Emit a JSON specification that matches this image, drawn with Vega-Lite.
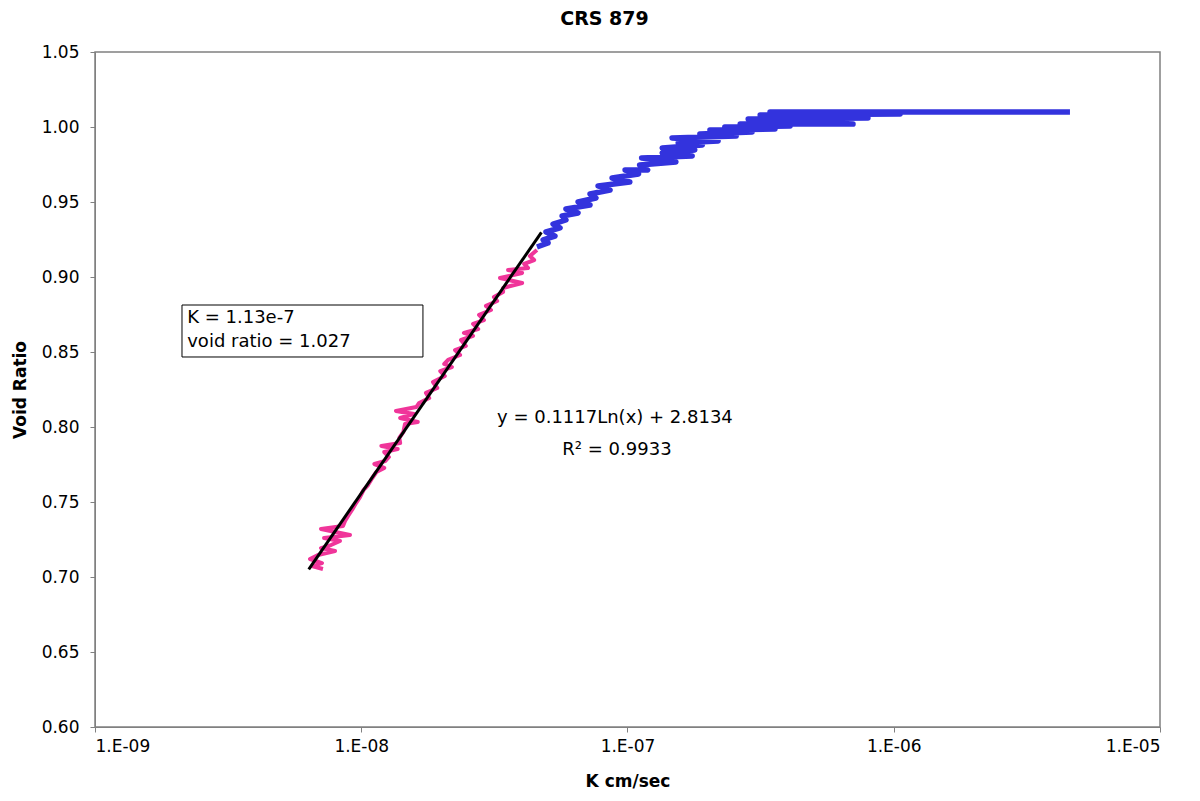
{
  "$schema": "https://vega.github.io/schema/vega-lite/v6.json",
  "width": 1065,
  "height": 675,
  "autosize": "none",
  "padding": {"left": 95, "top": 52, "right": 40, "bottom": 74},
  "background": "white",
  "config": {
    "font": "DejaVu Sans",
    "view": {"stroke": "#808080", "strokeWidth": 1.5},
    "axis": {"grid": false, "domainColor": "#808080", "tickColor": "#808080", "tickSize": 5, "labelColor": "#000000", "titleColor": "#000000", "labelFont": "DejaVu Sans", "titleFont": "DejaVu Sans", "labelFontSize": 17, "titleFontSize": 17, "titleFontWeight": "bold"}
  },
  "title": {"text": "CRS 879", "fontSize": 19, "fontWeight": "bold", "font": "DejaVu Sans", "color": "#000000", "dx": -23, "offset": 14},
  "datasets": {
    "series": [
      {"s": "blue", "i": 1, "K": 4.59e-6, "e": 1.0100},
      {"s": "blue", "i": 2, "K": 3.43e-7, "e": 1.0100},
      {"s": "blue", "i": 3, "K": 1.056e-6, "e": 1.0087},
      {"s": "blue", "i": 4, "K": 3.15e-7, "e": 1.0080},
      {"s": "blue", "i": 5, "K": 8.00e-7, "e": 1.0060},
      {"s": "blue", "i": 6, "K": 2.84e-7, "e": 1.0053},
      {"s": "blue", "i": 7, "K": 7.03e-7, "e": 1.0020},
      {"s": "blue", "i": 8, "K": 2.65e-7, "e": 1.0020},
      {"s": "blue", "i": 9, "K": 4.08e-7, "e": 1.0007},
      {"s": "blue", "i": 10, "K": 2.32e-7, "e": 1.0000},
      {"s": "blue", "i": 11, "K": 3.58e-7, "e": 0.9987},
      {"s": "blue", "i": 12, "K": 2.04e-7, "e": 0.9980},
      {"s": "blue", "i": 13, "K": 2.94e-7, "e": 0.9967},
      {"s": "blue", "i": 14, "K": 1.87e-7, "e": 0.9953},
      {"s": "blue", "i": 15, "K": 2.56e-7, "e": 0.9940},
      {"s": "blue", "i": 16, "K": 1.47e-7, "e": 0.9927},
      {"s": "blue", "i": 17, "K": 2.19e-7, "e": 0.9907},
      {"s": "blue", "i": 18, "K": 1.55e-7, "e": 0.9893},
      {"s": "blue", "i": 19, "K": 1.91e-7, "e": 0.9880},
      {"s": "blue", "i": 20, "K": 1.35e-7, "e": 0.9860},
      {"s": "blue", "i": 21, "K": 1.79e-7, "e": 0.9847},
      {"s": "blue", "i": 22, "K": 1.35e-7, "e": 0.9827},
      {"s": "blue", "i": 23, "K": 1.75e-7, "e": 0.9807},
      {"s": "blue", "i": 24, "K": 1.13e-7, "e": 0.9793},
      {"s": "blue", "i": 25, "K": 1.52e-7, "e": 0.9767},
      {"s": "blue", "i": 26, "K": 1.11e-7, "e": 0.9747},
      {"s": "blue", "i": 27, "K": 1.19e-7, "e": 0.9713},
      {"s": "blue", "i": 28, "K": 9.79e-8, "e": 0.9713},
      {"s": "blue", "i": 29, "K": 1.10e-7, "e": 0.9687},
      {"s": "blue", "i": 30, "K": 8.75e-8, "e": 0.9660},
      {"s": "blue", "i": 31, "K": 1.02e-7, "e": 0.9633},
      {"s": "blue", "i": 32, "K": 7.75e-8, "e": 0.9607},
      {"s": "blue", "i": 33, "K": 8.60e-8, "e": 0.9580},
      {"s": "blue", "i": 34, "K": 7.23e-8, "e": 0.9553},
      {"s": "blue", "i": 35, "K": 7.61e-8, "e": 0.9527},
      {"s": "blue", "i": 36, "K": 6.52e-8, "e": 0.9500},
      {"s": "blue", "i": 37, "K": 7.23e-8, "e": 0.9480},
      {"s": "blue", "i": 38, "K": 5.87e-8, "e": 0.9453},
      {"s": "blue", "i": 39, "K": 6.52e-8, "e": 0.9427},
      {"s": "blue", "i": 40, "K": 5.68e-8, "e": 0.9407},
      {"s": "blue", "i": 41, "K": 5.87e-8, "e": 0.9380},
      {"s": "blue", "i": 42, "K": 5.25e-8, "e": 0.9353},
      {"s": "blue", "i": 43, "K": 5.58e-8, "e": 0.9327},
      {"s": "blue", "i": 44, "K": 4.94e-8, "e": 0.9300},
      {"s": "blue", "i": 45, "K": 5.34e-8, "e": 0.9273},
      {"s": "blue", "i": 46, "K": 4.82e-8, "e": 0.9247},
      {"s": "blue", "i": 47, "K": 5.03e-8, "e": 0.9227},
      {"s": "blue", "i": 48, "K": 4.57e-8, "e": 0.9200},
      {"s": "pink", "i": 1, "K": 4.57e-8, "e": 0.9180},
      {"s": "pink", "i": 2, "K": 4.30e-8, "e": 0.9140},
      {"s": "pink", "i": 3, "K": 4.46e-8, "e": 0.9113},
      {"s": "pink", "i": 4, "K": 4.09e-8, "e": 0.9087},
      {"s": "pink", "i": 5, "K": 4.23e-8, "e": 0.9060},
      {"s": "pink", "i": 6, "K": 3.56e-8, "e": 0.9047},
      {"s": "pink", "i": 7, "K": 4.02e-8, "e": 0.9027},
      {"s": "pink", "i": 8, "K": 3.32e-8, "e": 0.8993},
      {"s": "pink", "i": 9, "K": 4.02e-8, "e": 0.8960},
      {"s": "pink", "i": 10, "K": 3.41e-8, "e": 0.8927},
      {"s": "pink", "i": 11, "K": 3.41e-8, "e": 0.8900},
      {"s": "pink", "i": 12, "K": 3.15e-8, "e": 0.8867},
      {"s": "pink", "i": 13, "K": 3.24e-8, "e": 0.8840},
      {"s": "pink", "i": 14, "K": 2.94e-8, "e": 0.8807},
      {"s": "pink", "i": 15, "K": 3.07e-8, "e": 0.8780},
      {"s": "pink", "i": 16, "K": 2.77e-8, "e": 0.8747},
      {"s": "pink", "i": 17, "K": 2.89e-8, "e": 0.8713},
      {"s": "pink", "i": 18, "K": 2.63e-8, "e": 0.8687},
      {"s": "pink", "i": 19, "K": 2.75e-8, "e": 0.8653},
      {"s": "pink", "i": 20, "K": 2.43e-8, "e": 0.8627},
      {"s": "pink", "i": 21, "K": 2.63e-8, "e": 0.8607},
      {"s": "pink", "i": 22, "K": 2.37e-8, "e": 0.8580},
      {"s": "pink", "i": 23, "K": 2.47e-8, "e": 0.8540},
      {"s": "pink", "i": 24, "K": 2.25e-8, "e": 0.8513},
      {"s": "pink", "i": 25, "K": 2.35e-8, "e": 0.8480},
      {"s": "pink", "i": 26, "K": 2.12e-8, "e": 0.8447},
      {"s": "pink", "i": 27, "K": 2.05e-8, "e": 0.8420},
      {"s": "pink", "i": 28, "K": 2.19e-8, "e": 0.8400},
      {"s": "pink", "i": 29, "K": 1.98e-8, "e": 0.8373},
      {"s": "pink", "i": 30, "K": 2.06e-8, "e": 0.8340},
      {"s": "pink", "i": 31, "K": 1.86e-8, "e": 0.8300},
      {"s": "pink", "i": 32, "K": 1.93e-8, "e": 0.8260},
      {"s": "pink", "i": 33, "K": 1.75e-8, "e": 0.8227},
      {"s": "pink", "i": 34, "K": 1.80e-8, "e": 0.8193},
      {"s": "pink", "i": 35, "K": 1.65e-8, "e": 0.8160},
      {"s": "pink", "i": 36, "K": 1.61e-8, "e": 0.8133},
      {"s": "pink", "i": 37, "K": 1.35e-8, "e": 0.8107},
      {"s": "pink", "i": 38, "K": 1.58e-8, "e": 0.8087},
      {"s": "pink", "i": 39, "K": 1.40e-8, "e": 0.8060},
      {"s": "pink", "i": 40, "K": 1.63e-8, "e": 0.8033},
      {"s": "pink", "i": 41, "K": 1.46e-8, "e": 0.8020},
      {"s": "pink", "i": 42, "K": 1.44e-8, "e": 0.7967},
      {"s": "pink", "i": 43, "K": 1.39e-8, "e": 0.7927},
      {"s": "pink", "i": 44, "K": 1.40e-8, "e": 0.7893},
      {"s": "pink", "i": 45, "K": 1.19e-8, "e": 0.7873},
      {"s": "pink", "i": 46, "K": 1.37e-8, "e": 0.7853},
      {"s": "pink", "i": 47, "K": 1.22e-8, "e": 0.7833},
      {"s": "pink", "i": 48, "K": 1.27e-8, "e": 0.7800},
      {"s": "pink", "i": 49, "K": 1.23e-8, "e": 0.7773},
      {"s": "pink", "i": 50, "K": 1.12e-8, "e": 0.7753},
      {"s": "pink", "i": 51, "K": 1.22e-8, "e": 0.7727},
      {"s": "pink", "i": 52, "K": 1.14e-8, "e": 0.7700},
      {"s": "pink", "i": 53, "K": 1.10e-8, "e": 0.7660},
      {"s": "pink", "i": 54, "K": 1.06e-8, "e": 0.7613},
      {"s": "pink", "i": 55, "K": 1.02e-8, "e": 0.7580},
      {"s": "pink", "i": 56, "K": 9.89e-9, "e": 0.7533},
      {"s": "pink", "i": 57, "K": 9.56e-9, "e": 0.7493},
      {"s": "pink", "i": 58, "K": 9.23e-9, "e": 0.7447},
      {"s": "pink", "i": 59, "K": 8.92e-9, "e": 0.7407},
      {"s": "pink", "i": 60, "K": 8.69e-9, "e": 0.7373},
      {"s": "pink", "i": 61, "K": 8.54e-9, "e": 0.7340},
      {"s": "pink", "i": 62, "K": 7.06e-9, "e": 0.7320},
      {"s": "pink", "i": 63, "K": 9.07e-9, "e": 0.7280},
      {"s": "pink", "i": 64, "K": 7.25e-9, "e": 0.7260},
      {"s": "pink", "i": 65, "K": 8.32e-9, "e": 0.7240},
      {"s": "pink", "i": 66, "K": 7.70e-9, "e": 0.7213},
      {"s": "pink", "i": 67, "K": 7.06e-9, "e": 0.7193},
      {"s": "pink", "i": 68, "K": 7.97e-9, "e": 0.7173},
      {"s": "pink", "i": 69, "K": 6.88e-9, "e": 0.7147},
      {"s": "pink", "i": 70, "K": 6.42e-9, "e": 0.7120},
      {"s": "pink", "i": 71, "K": 7.12e-9, "e": 0.7093},
      {"s": "pink", "i": 72, "K": 6.53e-9, "e": 0.7073},
      {"s": "pink", "i": 73, "K": 7.18e-9, "e": 0.7053},
      {"s": "trend", "i": 1, "K": 6.35e-9, "e": 0.7051},
      {"s": "trend", "i": 2, "K": 4.75e-8, "e": 0.9298}
    ],
    "box": [
      {"x1": 2.122e-9, "x2": 1.705e-8, "y1": 0.88133, "y2": 0.84667}
    ],
    "labels": [
      {"K": 2.22e-9, "e": 0.8727, "t": "K = 1.13e-7", "a": "left"},
      {"K": 2.22e-9, "e": 0.8567, "t": "void ratio = 1.027", "a": "left"},
      {"K": 8.97e-8, "e": 0.8060, "t": "y = 0.1117Ln(x) + 2.8134", "a": "center"},
      {"K": 9.13e-8, "e": 0.7847, "t": "R² = 0.9933", "a": "center"}
    ]
  },
  "layer": [
    {
      "data": {"name": "series"},
      "transform": [{"filter": "datum.s === 'blue'"}],
      "mark": {"type": "line", "color": "#3333DD", "strokeWidth": 5.5, "strokeJoin": "round", "strokeCap": "butt", "clip": true},
      "encoding": {
        "x": {"field": "K", "type": "quantitative", "scale": {"type": "log", "domain": [1e-9, 1e-5], "nice": false},
          "axis": {"values": [1e-9, 1e-8, 1e-7, 1e-6, 1e-5], "labelExpr": "'1.E-' + format(-round(log(datum.value)/LN10), '02d')", "title": "K cm/sec", "labelPadding": 6, "titlePadding": 19}},
        "y": {"field": "e", "type": "quantitative", "scale": {"domain": [0.6, 1.05], "nice": false, "zero": false},
          "axis": {"values": [0.6, 0.65, 0.7, 0.75, 0.8, 0.85, 0.9, 0.95, 1.0, 1.05], "format": ".2f", "title": "Void Ratio", "labelPadding": 11, "titlePadding": 12}},
        "order": {"field": "i", "type": "quantitative"}
      }
    },
    {
      "data": {"name": "series"},
      "transform": [{"filter": "datum.s === 'pink'"}],
      "mark": {"type": "line", "color": "#F0359A", "strokeWidth": 4, "strokeJoin": "round"},
      "encoding": {
        "x": {"field": "K", "type": "quantitative"},
        "y": {"field": "e", "type": "quantitative"},
        "order": {"field": "i", "type": "quantitative"}
      }
    },
    {
      "data": {"name": "series"},
      "transform": [{"filter": "datum.s === 'trend'"}],
      "mark": {"type": "line", "color": "#000000", "strokeWidth": 3},
      "encoding": {
        "x": {"field": "K", "type": "quantitative"},
        "y": {"field": "e", "type": "quantitative"},
        "order": {"field": "i", "type": "quantitative"}
      }
    },
    {
      "data": {"name": "box"},
      "mark": {"type": "rect", "fill": "white", "stroke": "#000000", "strokeWidth": 1},
      "encoding": {
        "x": {"field": "x1", "type": "quantitative"},
        "x2": {"field": "x2"},
        "y": {"field": "y1", "type": "quantitative"},
        "y2": {"field": "y2"}
      }
    },
    {
      "data": {"name": "labels"},
      "transform": [{"filter": "datum.a === 'left'"}],
      "mark": {"type": "text", "align": "left", "baseline": "middle", "fontSize": 18, "font": "DejaVu Sans", "color": "#000000"},
      "encoding": {
        "x": {"field": "K", "type": "quantitative"},
        "y": {"field": "e", "type": "quantitative"},
        "text": {"field": "t"}
      }
    },
    {
      "data": {"name": "labels"},
      "transform": [{"filter": "datum.a === 'center'"}],
      "mark": {"type": "text", "align": "center", "baseline": "middle", "fontSize": 18, "font": "DejaVu Sans", "color": "#000000"},
      "encoding": {
        "x": {"field": "K", "type": "quantitative"},
        "y": {"field": "e", "type": "quantitative"},
        "text": {"field": "t"}
      }
    }
  ]
}
